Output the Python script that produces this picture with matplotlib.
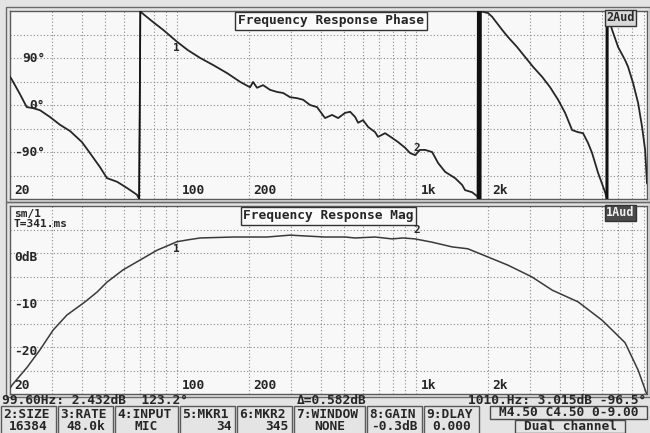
import matplotlib
matplotlib.use("Agg")
import matplotlib.pyplot as plt
from matplotlib.patches import Rectangle

# phase trace as shown on the analyser (wraps at +/-180 deg)
phase_freq = [20, 20.4, 22.0, 23.5, 25.0, 26.7, 29.4, 32.4, 35.7, 40.0, 43.2, 47.6, 50.9, 56.1, 61.8, 68.0, 69.4,
              70.2, 71.4, 79.3, 87.4, 100, 111, 125, 141, 162, 184, 202, 208, 216, 229, 245, 262, 278, 297, 318,
              337, 360, 385, 416, 445, 472, 505, 530, 556, 572, 600, 630, 674, 693, 742, 794, 841, 900, 944, 990,
              1039, 1091, 1167, 1236, 1323, 1456, 1558, 1603, 1715, 1817, 1835,
              1840, 2001, 2080, 2290, 2426, 2646, 2858, 3087, 3367, 3637, 3928, 4202, 4496, 4762, 4996, 5245,
              5450, 5774, 6178, 6290,
              6300, 6358, 6609, 7002, 7490, 7709, 8089, 8490, 8822, 9083, 9250]
phase_deg = [54, 48, 21, -4, -6, -10, -23, -38, -50, -71, -92, -119, -140, -147, -159, -172, -180,
             180, 176, 159, 144, 121, 105, 90, 77, 61, 44, 34, 44, 33, 38, 29, 25, 23, 15, 13,
             10, 0, -4, -25, -19, -25, -15, -13, -23, -34, -29, -42, -52, -61, -54, -63, -71, -82, -92, -96,
             -86, -86, -90, -111, -128, -140, -153, -163, -167, -176, -180,
             180, 176, 169, 144, 130, 111, 92, 73, 54, 34, 10, -15, -48, -52, -54, -73,
             -92, -130, -167, -180,
             180, 169, 144, 111, 86, 73, 42, 4, -42, -86, -150]
wrap_widths = [1.0, 3.5, 2.2]

mag_freq = [20, 20.4, 23.6, 26.7, 30.3, 34.6, 41.2, 46.3, 50.9, 59.4, 70.0, 82.5, 100, 111, 125, 172, 238,
            297, 416, 505, 556, 674, 794, 881, 990, 1167, 1415, 1646, 1944, 2426, 3055, 3710, 4762, 6000,
            6800, 7490, 8490, 9250]
mag_db = [-28.8, -28.1, -24.3, -20.6, -16.4, -13.2, -10.4, -8.3, -6.2, -3.6, -1.5, 0.6, 2.4, 2.8, 3.2, 3.4,
          3.4, 3.8, 3.4, 3.4, 3.2, 3.4, 3.0, 3.2, 3.0, 2.3, 1.3, 0.9, -0.6, -2.6, -5.1, -7.9, -10.4, -14.3,
          -17.0, -19.1, -24.9, -30.2]

freq_labels = [20, 100, 200, 1000, 2000]
freq_names = ["20", "100", "200", "1k", "2k"]
grid_freqs = [30, 40, 50, 60, 70, 80, 90, 100, 200, 300, 400, 500, 600, 700, 800, 900,
              1000, 2000, 3000, 4000, 5000, 6000, 7000, 8000, 9000]
phase_grid = [-135, -90, -45, 0, 45, 90, 135]
phase_labels = [90, 0, -90]
phase_names = ["90°", "0°", "-90°"]
mag_grid = [-25, -20, -15, -10, -5, 0, 5]
mag_labels = [0, -10, -20]
mag_names = ["0dB", "-10", "-20"]

marker_freq = [99.6, 1010]
marker_mag = [2.432, 3.015]
marker_phase = [123.2, -96.5]
marker_names = ["1", "2"]

status_left = "99.60Hz: 2.432dB  123.2°"
status_mid = "Δ=0.582dB"
status_right = "1010.Hz: 3.015dB -96.5°"
button_labels = ["2:SIZE", "3:RATE", "4:INPUT", "5:MKR1", "6:MKR2", "7:WINDOW", "8:GAIN", "9:DLAY"]
button_values = ["16384", "48.0k", "MIC", "34", "345", "NONE", "-0.3dB", "0.000"]
button_align = ["center", "center", "center", "right", "right", "center", "center", "center"]

W, H = 650, 433
plt.rcParams["font.family"] = ["DejaVu Sans Mono"]
plt.rcParams["font.weight"] = "bold"
ink = "#262626"
grid_c = "#8a8a8a"
fs = 9.3

fig = plt.figure(figsize=(W / 100, H / 100), dpi=100, facecolor="#e4e4e4")


def box(x0, y0, x1, y1, **kw):
    r = Rectangle((x0 / W, 1 - y1 / H), (x1 - x0) / W, (y1 - y0) / H,
                  transform=fig.transFigure, **kw)
    fig.add_artist(r)


def ftext(x, y, s, **kw):
    fig.text(x / W, 1 - y / H, s, color=ink, fontsize=fs, va="center", **kw)


ax_ph = fig.add_axes([10 / W, 1 - 199 / H, 637 / W, 188 / H])
ax_mag = fig.add_axes([10 / W, 1 - 394 / H, 637 / W, 188 / H])

for ax, top, bot in [(ax_ph, 11, 199), (ax_mag, 206, 394)]:
    ax.set_xscale("log")
    ax.set_xlim(20, 9250)
    ax.set_facecolor("#f8f8f8")
    ax.tick_params(which="both", length=0, labelbottom=False, labelleft=False)
    for s in ax.spines.values():
        s.set_color("#5a5a5a")
        s.set_linewidth(1.0)
    for f in grid_freqs:
        ax.axvline(f, color=grid_c, lw=0.8, ls=(0, (1, 2)), zorder=1)
    for f, name in zip(freq_labels, freq_names):
        ax.text(f * 1.045, 0.045, name, transform=ax.get_xaxis_transform(),
                fontsize=fs, color=ink, va="center", ha="left")
    # double frame of the screen panel
    box(6, top - 4, 649.5, bot + 3, fill=False, ec="#6a6a6a", lw=1.0)

# phase panel
ax_ph.set_ylim(-180, 180)
for v in phase_grid:
    ax_ph.axhline(v, color=grid_c, lw=0.8, ls=(0, (1, 2)), zorder=1)
for v, name in zip(phase_labels, phase_names):
    ax_ph.text(0.055, v, name, transform=ax_ph.get_yaxis_transform(),
               fontsize=fs, color=ink, ha="right", va="center")
ax_ph.plot(phase_freq, phase_deg, color=ink, lw=1.3, zorder=3)
w = 0
for i in range(len(phase_deg) - 1):
    if abs(phase_deg[i + 1] - phase_deg[i]) > 180:
        ax_ph.plot(phase_freq[i:i + 2], phase_deg[i:i + 2], color="#111111",
                   lw=wrap_widths[w], zorder=3, solid_capstyle="butt")
        w += 1
ax_ph.text(0.504, 0.947, "Frequency Response Phase", transform=ax_ph.transAxes,
           fontsize=fs, color=ink, ha="center", va="center",
           bbox=dict(boxstyle="square,pad=0.2", fc="#fbfbfb", ec="#333333", lw=1.0))
ax_ph.text(0.958, 0.963, "2Aud", transform=ax_ph.transAxes, fontsize=8.5, color=ink,
           ha="center", va="center",
           bbox=dict(boxstyle="square,pad=0.1", fc="#d8d8d8", ec="#333333", lw=1.0))

# magnitude panel
ax_mag.set_ylim(-30, 10)
for v in mag_grid:
    ax_mag.axhline(v, color=grid_c, lw=0.8, ls=(0, (1, 2)), zorder=1)
for v, name in zip(mag_labels, mag_names):
    ax_mag.text(0.007, v - 1.0, name, transform=ax_mag.get_yaxis_transform(),
                fontsize=fs, color=ink, ha="left", va="center")
ax_mag.plot(mag_freq, mag_db, color="#3a3a3a", lw=1.1, zorder=3)
ax_mag.text(0.5, 0.947, "Frequency Response Mag", transform=ax_mag.transAxes,
            fontsize=fs, color=ink, ha="center", va="center",
            bbox=dict(boxstyle="square,pad=0.2", fc="#fbfbfb", ec="#333333", lw=1.0))
ax_mag.text(0.958, 0.963, "1Aud", transform=ax_mag.transAxes, fontsize=8.5, color="#f0f0f0",
            ha="center", va="center",
            bbox=dict(boxstyle="square,pad=0.1", fc="#4a4a4a", ec="#333333", lw=1.0))
ax_mag.text(0.006, 0.955, "sm/1", transform=ax_mag.transAxes, fontsize=8, color=ink,
            ha="left", va="center")
ax_mag.text(0.006, 0.905, "T=341.ms", transform=ax_mag.transAxes, fontsize=8, color=ink,
            ha="left", va="center")

# cursor markers
for f, m, p, name in zip(marker_freq, marker_mag, marker_phase, marker_names):
    below = name == "1"
    ax_ph.text(f, p - 14 if below else p + 14, name, fontsize=8, color=ink,
               ha="center", va="center", zorder=4)
    ax_mag.text(f, m - 1.6 if below else m + 1.8, name, fontsize=8, color=ink,
                ha="center", va="center", zorder=4)

# status line
ftext(2, 401, status_left, ha="left")
ftext(297, 401, status_mid, ha="left")
ftext(646, 401, status_right, ha="right")

# softkey row
x = 0
for lab, val, al in zip(button_labels, button_values, button_align):
    cw = max(len(lab), len(val)) * 8 + 9
    box(x + 1, 406, x + cw - 1, 434, fill=False, ec="#5a5a5a", lw=1.0)
    ftext(x + 3, 414, lab, ha="left")
    if al == "right":
        ftext(x + cw - 4, 426, val, ha="right")
    else:
        ftext(x + cw / 2, 426, val, ha="center")
    x += cw

box(490, 406, 647, 419, fill=False, ec="#4a4a4a", lw=1.0)
ftext(568.5, 412.5, "M4.50 C4.50 0-9.00", ha="center")
box(515, 420, 625, 433, fill=False, ec="#4a4a4a", lw=1.0)
ftext(570, 426.5, "Dual channel", ha="center")

fig.savefig("out.png", dpi=100, facecolor=fig.get_facecolor())
